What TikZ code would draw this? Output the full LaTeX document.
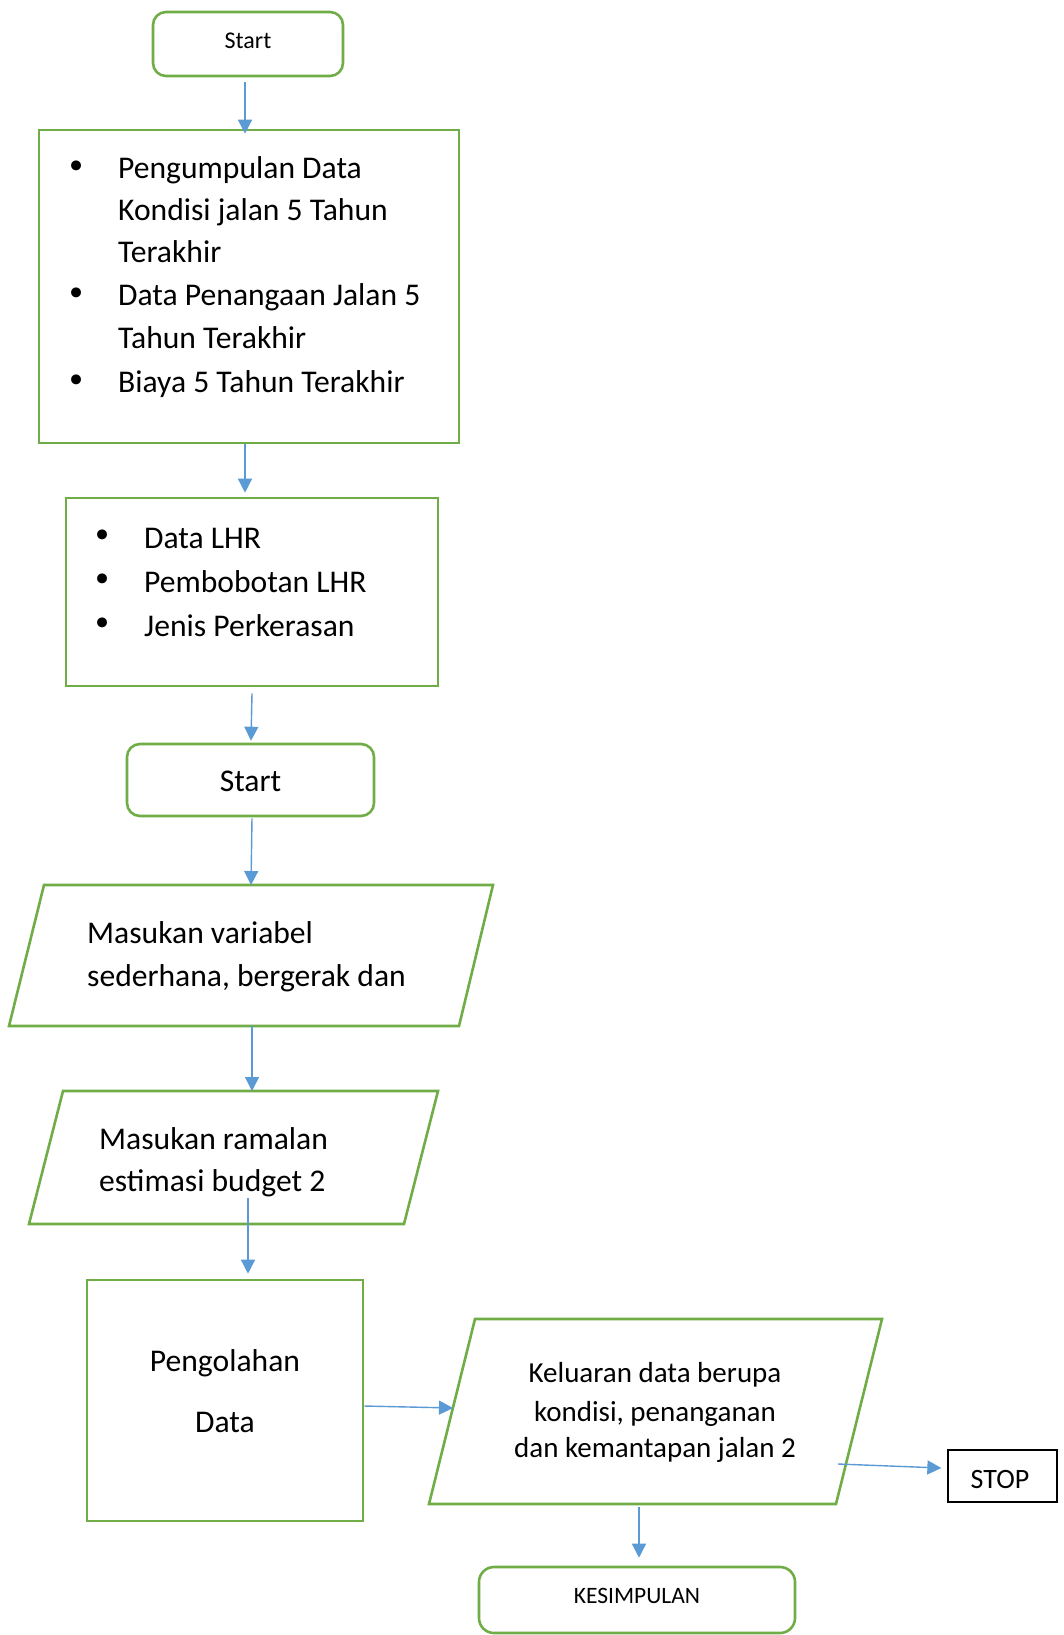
\documentclass[tikz,border=0pt]{standalone}
\usepackage{fontspec}
\setmainfont{Carlito}
\newfontfamily\bulletfont{DejaVu Sans}
\usetikzlibrary{arrows.meta,calc}
\definecolor{grn}{HTML}{70AD47}
\definecolor{blu}{HTML}{5B9BD5}
\tikzset{
  gbox/.style={draw=grn, line width=2.6pt, inner sep=0pt, rectangle},
  rbox/.style={gbox, rounded corners=13pt},
  gpath/.style={draw=grn, line width=2.6pt, line join=miter},
  arr/.style={draw=blu, line width=1.4pt, -{Triangle[length=14pt,width=14pt]}},
  big/.style={font=\fontsize{31.6}{38}\selectfont, inner sep=0pt},
  mid/.style={font=\fontsize{29}{34}\selectfont, inner sep=0pt, anchor=base},
  bul/.style={font=\bulletfont\fontsize{34}{38}\selectfont, inner sep=0pt, anchor=center},
}
\begin{document}
\begin{tikzpicture}[x=1pt,y=-1pt]
\useasboundingbox (0,0) rectangle (1063,1635);
\fill[white] (0,0) rectangle (1063,1635);

% ---------- boxes ----------
\node[rbox, minimum width=190pt, minimum height=64pt] (s1) at (248,44) {};
\node[font=\fontsize{24}{28}\selectfont, inner sep=0pt, anchor=base] (s1t) at (248,49) {Start};

\node[gbox, minimum width=420pt, minimum height=313pt] (b1) at (249,286.5) {};
\node[bul] (b1d1) at (77,170) {•};
\node[bul] (b1d2) at (77,297) {•};
\node[bul] (b1d3) at (77,384) {•};
\node[big, anchor=base west] (b1l1) at (118,178) {Pengumpulan Data};
\node[big, anchor=base west] (b1l2) at (118,220) {Kondisi jalan 5 Tahun};
\node[big, anchor=base west] (b1l3) at (118,262) {Terakhir};
\node[big, anchor=base west] (b1l4) at (118,305) {Data Penangaan Jalan 5};
\node[big, anchor=base west] (b1l5) at (118,348) {Tahun Terakhir};
\node[big, anchor=base west] (b1l6) at (118,392) {Biaya 5 Tahun Terakhir};

\node[gbox, minimum width=372pt, minimum height=188pt] (b2) at (252,592) {};
\node[bul] (b2d1) at (103,539) {•};
\node[bul] (b2d2) at (103,583) {•};
\node[bul] (b2d3) at (103,627) {•};
\node[big, anchor=base west] (b2l1) at (144,548) {Data LHR};
\node[big, anchor=base west] (b2l2) at (144,592) {Pembobotan LHR};
\node[big, anchor=base west] (b2l3) at (144,636) {Jenis Perkerasan};

\node[rbox, minimum width=247pt, minimum height=72pt] (s2) at (250.5,780) {};
\node[big, anchor=base] (s2t) at (250.5,791) {Start};

% parallelogram 1
\draw[gpath] (44,885) -- (493,885) -- (459,1026) -- (9,1026) -- cycle;
\coordinate (p1top) at (251,885);
\coordinate (p1bot) at (252,1026);
\node[big, anchor=base west] (p1l1) at (87,943) {Masukan variabel};
\node[big, anchor=base west] (p1l2) at (87,986) {sederhana, bergerak dan};

% parallelogram 2
\draw[gpath] (63,1091) -- (438,1091) -- (404,1224) -- (29,1224) -- cycle;
\coordinate (p2top) at (252,1091);
\coordinate (p2in) at (248,1198);
\node[big, anchor=base west] (p2l1) at (99,1149) {Masukan ramalan};
\node[big, anchor=base west] (p2l2) at (99,1191) {estimasi budget 2};

% processing box
\node[gbox, minimum width=276pt, minimum height=241pt] (pg) at (225,1400.5) {};
\node[big, anchor=base] (pgl1) at (225,1371) {Pengolahan};
\node[big, anchor=base] (pgl2) at (225,1432) {Data};

% parallelogram 3
\draw[gpath] (475,1319) -- (882,1319) -- (836,1504) -- (429,1504) -- cycle;
\coordinate (p3in) at (453,1408);
\coordinate (p3out) at (838,1464);
\coordinate (p3bot) at (639,1507);
\node[mid] (p3l1) at (655,1382) {Keluaran data berupa};
\node[mid] (p3l2) at (655,1421) {kondisi, penanganan};
\node[mid] (p3l3) at (655,1457) {dan kemantapan jalan 2};

% STOP
\node[draw=black, line width=1.3pt, inner sep=0pt, minimum width=109pt, minimum height=52pt] (stop) at (1002.5,1476) {};
\node[font=\fontsize{28}{32}\selectfont, inner sep=0pt, anchor=base] (stopt) at (1000,1488) {STOP};

% KESIMPULAN
\node[gbox, rounded corners=15pt, minimum width=316pt, minimum height=66pt] (kes) at (637,1600) {};
\node[font=\fontsize{23.5}{28}\selectfont, inner sep=0pt, anchor=base] (kest) at (637,1603) {KESIMPULAN};

% ---------- connectors ----------
\draw[arr] ([xshift=-3pt,yshift=-5pt]s1.south) -- ([xshift=-4pt,yshift=-5pt]b1.north);
\draw[arr] ([xshift=-4pt]b1.south) -- ([xshift=-7pt,yshift=4pt]b2.north);
\draw[arr] ([yshift=-6pt]b2.south) -- ([xshift=0.5pt,yshift=2pt]s2.north);
\draw[arr] ([xshift=1.5pt,yshift=-1pt]s2.south) -- (p1top);
\draw[arr] (p1bot) -- (p2top);
\draw[arr] (p2in) -- ([xshift=23pt,yshift=5pt]pg.north);
\draw[arr] ([yshift=-5.5pt]pg.east) -- (p3in);
\draw[arr] (p3out) -- ([xshift=-6pt,yshift=8pt]stop.west);
\draw[arr] (p3bot) -- ([xshift=2pt,yshift=8pt]kes.north);
\end{tikzpicture}
\end{document}
